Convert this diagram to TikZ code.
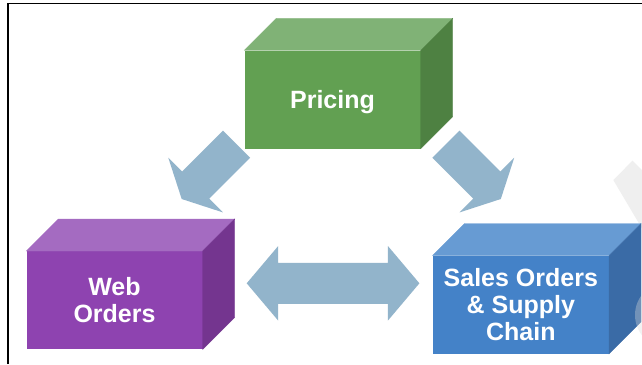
\documentclass[tikz,border=0pt]{standalone}
\usepackage{fontspec}
\setmainfont{Liberation Sans}
\usetikzlibrary{calc}
\definecolor{grF}{HTML}{62A052}
\definecolor{grT}{HTML}{80B276}
\definecolor{grS}{HTML}{4E8142}
\definecolor{puF}{HTML}{8E43B0}
\definecolor{puT}{HTML}{A46BC1}
\definecolor{puS}{HTML}{74358F}
\definecolor{blF}{HTML}{4482C8}
\definecolor{blT}{HTML}{679BD3}
\definecolor{blS}{HTML}{3A6BA6}
\definecolor{arrowc}{HTML}{92B4CB}
\definecolor{ghost}{HTML}{EFEFEF}
\tikzset{
  boxfront/.style={rectangle, minimum width=176pt, minimum height=98pt, inner sep=0pt,
    text=white, align=center, font=\fontsize{25pt}{27pt}\selectfont\bfseries},
  arrowfill/.style={fill=arrowc},
  frameline/.style={line width=1.2pt, draw=black},
}
% #1 node name, #2 top colour, #3 side colour, #4 depth
\newcommand\cuboidfaces[4]{%
  \filldraw[fill=#2, draw=#2, line width=0.3pt] (#1.north west) -- ++(#4,#4) -- ($(#1.north east)+(#4,#4)$) -- (#1.north east) -- cycle;
  \filldraw[fill=#3, draw=#3, line width=0.3pt] (#1.north east) -- ++(#4,#4) -- ($(#1.south east)+(#4,#4)$) -- (#1.south east) -- cycle;}
% #1 tail coordinate, #2 angle, #3 length, #4 shaft half width, #5 head half width, #6 head length
\newcommand\blockarrow[6]{%
  \fill[arrowfill, shift={(#1)}, rotate=#2] (0,#4) -- ({#3-#6},#4) -- ({#3-#6},#5) -- (#3,0)
    -- ({#3-#6},-#5) -- ({#3-#6},-#4) -- (0,-#4) -- cycle;}
\begin{document}
\begin{tikzpicture}[x=1pt, y=1pt]
\useasboundingbox (0,0) rectangle (642,-364);
\fill[white] (0,0) rectangle (642,-364);

% faint background shape at right edge
\begin{scope}
  \clip (0,0) rectangle (642,-364);
  \fill[ghost] (613.3,-180) -- (632.5,-160.7) -- (680,-208) -- (650,-242) -- cycle;
\end{scope}

% frame
\coordinate (fbl) at (8,-364);
\coordinate (ftl) at (8,-3.5);
\coordinate (ftr) at (642,-3.5);
\draw[frameline] (fbl) -- (ftl) -- (ftr);

% boxes
\node[boxfront, fill=grF, text depth=0pt] (pricing) at (332.5,-99.5) {Pricing};
\cuboidfaces{pricing}{grT}{grS}{32}
\node[boxfront, fill=puF] (web) at (114.5,-300.2) {Web\\Orders};
\cuboidfaces{web}{puT}{puS}{32}
\node[boxfront, fill=blF] (sales) at (520.8,-304.7) {Sales Orders\\\& Supply\\Chain};
\cuboidfaces{sales}{blT}{blS}{32}

% faint circle at right edge
\begin{scope}
  \clip (0,0) rectangle (642,-364);
  \fill[white!86!black, fill opacity=0.35] (668,-315) circle (33);
\end{scope}

% arrows
\coordinate (a1) at (236.5,-144.2);
\coordinate (a2) at (446.0,-144.2);
\coordinate (a3) at (333.05,-283.3);
\blockarrow{a1}{225}{77.5}{19.2}{38.7}{19.7}
\blockarrow{a2}{-45}{77.5}{19.2}{38.7}{19.7}
\fill[arrowfill, shift={(a3)}] (-86.35,0) -- (-54.85,37.3) -- (-54.85,20.5) -- (54.85,20.5)
  -- (54.85,37.3) -- (86.35,0) -- (54.85,-37.3) -- (54.85,-20.5) -- (-54.85,-20.5)
  -- (-54.85,-37.3) -- cycle;
\end{tikzpicture}
\end{document}
